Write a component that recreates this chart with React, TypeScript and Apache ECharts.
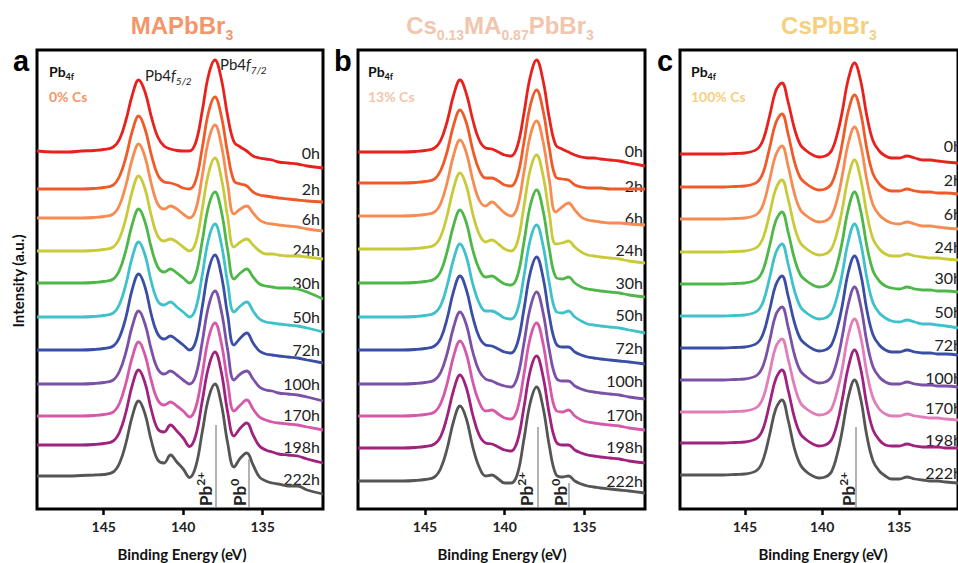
import React, { useEffect, useRef } from "react";
import * as echarts from "echarts";

// Binding energy grids (eV)
const ENERGY_AB = [149.2, 148.2, 147.2, 146.4, 145.6, 145.0, 144.4, 144.0, 143.6, 143.2, 142.8, 142.4, 142.0, 141.6, 141.2, 140.8, 140.4, 140.0, 139.6, 139.2, 138.8, 138.4, 138.0, 137.6, 137.2, 136.8, 136.4, 136.0, 135.6, 135.2, 134.8, 134.4, 134.0, 133.4, 132.8, 132.2, 131.2];
const ENERGY_C = [149.2, 148.2, 147.2, 146.4, 145.6, 145.0, 144.2, 143.8, 143.4, 143.0, 142.6, 142.2, 141.8, 141.4, 141.0, 140.6, 140.2, 139.8, 139.4, 139.0, 138.7, 138.3, 137.9, 137.5, 137.1, 136.7, 136.3, 135.9, 135.5, 135.0, 134.5, 134.0, 133.5, 133.0, 132.5, 132.0, 131.2];

const TIMES = ["0h", "2h", "6h", "24h", "30h", "50h", "72h", "100h", "170h", "198h", "222h"];
const COLORS = ["#E8211D", "#F05A28", "#F68C52", "#C8CA3A", "#4DB748", "#3EC1CA", "#3A4EA5", "#7B51A8", "#D558A9", "#A0227F", "#555555"];
const COLORS_C = ["#E8211D", "#F05A28", "#F68C52", "#C8CA3A", "#4DB748", "#3EC1CA", "#3A4EA5", "#7B51A8", "#E17DB9", "#A0227F", "#555555"];

// Vertical offsets of each spectrum (a.u.)
const OFFSETS_A = [358, 320, 291, 258, 226, 192, 159, 125, 93, 64, 33];
const OFFSETS_B = [357, 326, 293, 260, 226, 192, 159, 125, 93, 61, 28];
const OFFSETS_C = [355, 322, 290, 257, 225, 193, 161, 129, 97, 66, 34];

// Intensities (a.u., relative to each spectrum's high-BE baseline)
const SPECTRA_A = [
  [0, -1, -1, 0, 0.5, 1.5, 4, 12, 31, 56, 71, 59, 34, 14, 5, 2, 0.5, 0, 0, 9, 40, 76, 91, 72, 35, 9, 4, 0, -5, -7, -8, -9, -11, -12, -13, -15, -17],
  [0, 0, 0, 0, 0.5, 1.5, 4, 13, 32, 58, 73, 60, 34, 14, 7, 6, 4, 1, 0, 9, 41, 77, 92, 73, 36, 8, 5, 3, -3, -6, -7, -8, -9, -10, -11, -12, -13],
  [0, 0, 0, 0, 0.5, 1.5, 4, 13, 33, 59, 74, 61, 34, 14, 9, 12, 9, 4, 0, 9, 42, 78, 93, 73, 34, 4, 9, 12, 5, -2, -5, -6, -7, -8, -9, -11, -13],
  [0, 0, 0, 0, 0.5, 1.5, 4, 13, 33, 60, 75, 62, 35, 15, 10, 12, 9, 4, 0, 9, 42, 78, 93, 73, 34, 4, 9, 12, 6, 0, -3, -3, -4, -5, -5, -6, -8],
  [0, 0, 0, 0, 0.5, 1.5, 4, 13, 33, 59, 74, 61, 35, 16, 11, 14, 10, 5, 0, 9, 42, 77, 91, 72, 33, 4, 10, 14, 6, -1, -3, -4, -5, -5, -6, -9, -16],
  [0, 0, 0, 0, 0.5, 1.5, 4, 13, 33, 60, 75, 62, 35, 16, 12, 15, 10, 5, 0, 9, 42, 78, 93, 73, 34, 5, 11, 15, 6, -2, -5, -6, -7, -8, -9, -11, -15],
  [0, 0, 0, 0, 0.5, 1.5, 4, 13, 33, 61, 76, 63, 35, 16, 11, 14, 10, 5, 0, 9, 43, 80, 95, 75, 35, 5, 12, 17, 7, -1, -4, -5, -6, -7, -8, -10, -13],
  [0, 0, 0, 0, 0.5, 1.5, 4, 13, 32, 58, 73, 60, 34, 15, 10, 13, 9, 4, 0, 9, 42, 78, 93, 73, 34, 4, 10, 13, 5, -3, -6, -7, -9, -10, -11, -13, -17],
  [0, 0, 0, 0, 0.5, 1.5, 4, 13, 33, 59, 74, 61, 35, 16, 11, 14, 10, 5, -1, 9, 42, 78, 93, 73, 34, 5, 11, 16, 7, -1, -4, -6, -7, -8, -9, -11, -14],
  [0, 0, 0, 0, 0.5, 1.5, 4, 13, 33, 60, 75, 62, 35, 16, 13, 20, 14, 7, -1.5, 10, 44, 78, 93, 73, 33, 9, 17, 22, 10, -1, -5, -7, -9, -10, -11, -14, -18],
  [0, 0, 0, 0.5, 1, 1.5, 4, 13, 33, 60, 75, 62, 35, 16, 13, 21, 14, 7, -1.5, 10, 44, 78, 92, 72, 33, 9, 18, 23, 11, -1, -5, -7, -8, -10, -10, -14, -18],
];

const SPECTRA_B = [
  [0, 0, 0, 0, 0.5, 1.5, 4, 12, 31, 57, 72, 58, 32, 12, 4, 3, 0, -3, -4, 6, 38, 75, 92, 72, 34, 7, 3, 0, -3, -5, -6, -6, -7, -8, -9, -11, -14],
  [0, 0, 0, 0, 0.5, 1.5, 4, 13, 32, 58, 73, 60, 33, 13, 5, 5, 2, -2, -3, 7, 40, 77, 93, 73, 35, 6, 4, 3, -2, -4, -5, -5, -5, -6, -6, -6, -6],
  [0, 0, 0, 0, 0.5, 1.5, 4, 13, 34, 61, 76, 63, 36, 16, 10, 14, 9, 3, 0, 9, 43, 80, 95, 75, 36, 4, 9, 13, 6, -1, -4, -5, -6, -7, -7, -8, -9],
  [0, 0, 0, 0, 0.5, 1.5, 4, 13, 34, 61, 76, 63, 35, 15, 7, 9, 5, 0, -2, 7, 42, 79, 94, 74, 35, 5, 6, 8, 2, -3, -6, -7, -8, -9, -10, -12, -14],
  [0, 0, 0, 0, 0.5, 1.5, 4, 12, 32, 58, 73, 60, 33, 14, 6, 7, 3, -1, -2, 7, 40, 77, 93, 73, 34, 6, 4, 6, 0, -4, -6, -7, -8, -9, -10, -12, -14],
  [0, 0, 0, 0, 0.5, 1.5, 4, 12, 32, 58, 73, 60, 33, 14, 6, 6, 3, -1, -2, 7, 40, 77, 92, 72, 34, 6, 4, 6, 0, -4, -7, -8, -9, -10, -11, -13, -16],
  [0, 0, 0, 0, 0.5, 1.5, 4, 12, 32, 59, 74, 60, 33, 13, 5, 4, 1, -2, -3, 7, 40, 77, 93, 73, 34, 7, 3, 3, -2, -5, -7, -8, -9, -10, -11, -12, -14],
  [0, 0, 0, 0, 0.5, 1.5, 4, 12, 31, 57, 72, 59, 32, 13, 5, 3, 0, -2, -3, 7, 40, 76, 92, 72, 34, 7, 3, 3, -2, -5, -7, -8, -9, -10, -11, -13, -15],
  [0, 0, 0, 0, 0.5, 1.5, 4, 13, 33, 60, 75, 62, 34, 14, 5, 6, 2, -2, -3, 7, 41, 78, 93, 73, 34, 6, 4, 6, 0, -4, -6, -7, -8, -9, -10, -12, -14],
  [0, 0, 0, 0, 0.5, 1.5, 4, 12, 32, 58, 73, 60, 33, 13, 5, 4, 1, -2, -3, 7, 40, 77, 92, 72, 34, 7, 3, 3, -2, -5, -7, -8, -9, -10, -11, -13, -15],
  [0, 0, 0, 0, 0.5, 1.5, 4, 13, 33, 60, 75, 62, 34, 14, 5, 6, 2, -2, -2, 7, 41, 78, 94, 74, 35, 7, 4, 5, 0, -3, -5, -6, -7, -8, -9, -10, -12],
];

const SPECTRA_C = [
  [0, 0, 0, 0, 0.5, 1, 5, 15, 38, 63, 71, 52, 26, 9, 3, -1, -3, -2, 3, 21, 42, 75, 91, 73, 38, 13, 3, -2, -4, -4, -2, -4, -6, -6, -7, -8, -9],
  [0, 0, 0, 0, 0.5, 1, 5, 15, 39, 64, 73, 53, 26, 9, 3, -1, -3, -2, 3, 21, 43, 76, 92, 74, 38, 13, 3, -2, -4, -4, -2, -4, -5, -5, -6, -6, -7],
  [0, 0, 0, 0, 0.5, 1, 5, 15, 39, 64, 73, 53, 26, 9, 3, -1, -3, -2, 3, 21, 43, 76, 92, 74, 39, 14, 4, -1, -4, -5, -3, -5, -7, -7, -8, -9, -10],
  [0, 0, 0, 0, 0.5, 1, 5, 15, 38, 63, 72, 53, 26, 9, 3, -1, -3, -2, 3, 21, 42, 75, 92, 73, 38, 13, 3, -2, -4, -4, -2, -4, -5, -6, -6, -7, -8],
  [0, 0, 0, 0, 0.5, 1, 5, 15, 38, 63, 72, 52, 26, 9, 3, -1, -3, -2, 3, 21, 42, 75, 92, 73, 38, 13, 3, -2, -4, -5, -3, -5, -6, -6, -7, -7, -8],
  [0, 0, 0, 0, 0.5, 1, 5, 15, 38, 63, 72, 52, 26, 9, 3, -1, -3, -2, 3, 21, 42, 75, 92, 73, 38, 13, 3, -2, -5, -6, -4, -6, -8, -8, -9, -10, -12],
  [0, 0, 0, 0, 0.5, 1, 5, 15, 38, 63, 72, 52, 26, 9, 3, -1, -3, -2, 3, 21, 42, 76, 92, 74, 38, 13, 3, -2, -4, -4, -2, -4, -5, -5, -6, -6, -7],
  [0, 0, 0, 0, 0.5, 1, 5, 15, 39, 65, 73, 53, 26, 9, 3, -1, -3, -2, 3, 21, 43, 76, 93, 74, 38, 13, 3, -2, -4, -4, -2, -4, -5, -5, -6, -6, -7],
  [0, 0, 0, 0, 0.5, 1, 5, 15, 39, 65, 73, 53, 27, 9, 3, -1, -3, -2, 3, 22, 43, 77, 93, 75, 39, 14, 3, -2, -4, -4, -2, -4, -5, -6, -6, -7, -8],
  [0, 0, 0, 0, 0.5, 1, 5, 15, 39, 64, 73, 53, 26, 9, 3, -1, -3, -2, 3, 21, 43, 76, 93, 74, 38, 13, 3, -2, -3, -3, -1, -3, -4, -4, -4, -5, -5],
  [0, 0, 0, 0, 0.5, 1, 5, 16, 40, 66, 75, 55, 27, 10, 3, -1, -3, -2, 3, 22, 44, 78, 95, 76, 39, 14, 4, -1, -4, -4, -2, -4, -5, -6, -6, -7, -8],
];

const X_TICKS = [135, 140, 145];

// Time-label vertical centres (px) per panel
const LABEL_Y_A = [152, 188, 218, 249, 282, 316, 349, 383, 414, 446, 478];
const LABEL_Y_B = [150, 185, 217, 249, 282, 314, 347, 380, 414, 446, 480];
const LABEL_Y_C = [145, 179, 213, 246, 277, 311, 344, 377, 407, 439, 472];

const FONT_UI = "Lato, 'Open Sans', sans-serif";
const FONT_HEAD = "'Liberation Sans', Arial, sans-serif";

let measureCtx: CanvasRenderingContext2D | null = null;
function textWidth(t: string, size: number, weight: string, italic: boolean, family: string) {
  if (!measureCtx) {
    const c = document.createElement("canvas");
    measureCtx = c.getContext("2d");
  }
  if (!measureCtx) return t.length * size * 0.55;
  measureCtx.font = `${italic ? "italic" : "normal"} ${weight} ${size}px ${family}`;
  return measureCtx.measureText(t).width;
}

type Seg = { t: string; size: number; weight?: string; italic?: boolean; dy?: number; fill?: string; family?: string };

function row(x0: number, baseline: number, segs: Seg[], align: "left" | "center" | "right", def: { fill: string; family: string; weight: string }) {
  const widths = segs.map((s) => textWidth(s.t, s.size, s.weight || def.weight, !!s.italic, s.family || def.family));
  const total = widths.reduce((a, b) => a + b, 0);
  let x = align === "left" ? x0 : align === "center" ? x0 - total / 2 : x0 - total;
  return segs.map((s, i) => {
    const fam = s.family || def.family;
    const k = fam === FONT_HEAD ? 0.35 : 0.37;
    const el = {
      type: "text",
      x,
      y: baseline + (s.dy || 0) - k * s.size,
      silent: true,
      style: {
        text: s.t,
        fill: s.fill || def.fill,
        fontSize: s.size,
        fontWeight: s.weight || def.weight,
        fontStyle: s.italic ? "italic" : "normal",
        fontFamily: fam,
        align: "left",
        textAlign: "left",
        verticalAlign: "middle",
        textVerticalAlign: "middle",
      },
    };
    x += widths[i];
    return el;
  });
}

function simpleText(x: number, y: number, text: string, size: number, weight: string, fill: string, family: string, align: string, rotation = 0) {
  return {
    type: "text",
    x,
    y,
    rotation,
    silent: true,
    style: {
      text,
      fill,
      fontSize: size,
      fontWeight: weight,
      fontFamily: family,
      align,
      textAlign: align,
      verticalAlign: "middle",
      textVerticalAlign: "middle",
    },
  };
}

function rotatedPb(x: number, y: number, sup: string) {
  const def = { fill: "#222", family: FONT_UI, weight: "bold" };
  return {
    type: "group",
    x,
    y,
    rotation: Math.PI / 2,
    silent: true,
    children: row(0, 0, [
      { t: "Pb", size: 17 },
      { t: sup, size: 12, dy: -7 },
    ], "left", def),
  };
}

const PANELS = [
  {
    left: 37, width: 286, energy: ENERGY_AB, spectra: SPECTRA_A, offsets: OFFSETS_A, colors: COLORS,
    lines: [[137.95, 84], [135.9, 50]],
  },
  {
    left: 358, width: 287, energy: ENERGY_AB, spectra: SPECTRA_B, offsets: OFFSETS_B, colors: COLORS,
    lines: [[137.95, 82], [136.0, 26]],
  },
  {
    left: 680, width: 286, energy: ENERGY_C, spectra: SPECTRA_C, offsets: OFFSETS_C, colors: COLORS_C,
    lines: [[137.85, 82]],
  },
];

function buildOption() {
  const grid = PANELS.map((p) => ({
    left: p.left, top: 50, width: p.width, height: 459,
    show: true, borderColor: "#000", borderWidth: 3, backgroundColor: "transparent",
  }));
  const xAxis = PANELS.map((p, i) => ({
    type: "value", gridIndex: i, inverse: true, min: 131.2, max: 149.2,
    axisLine: { show: false },
    axisTick: { show: true, inside: false, length: 6, lineStyle: { color: "#000", width: 2.5 }, customValues: X_TICKS },
    axisLabel: { customValues: X_TICKS, margin: 10, fontSize: 14, fontWeight: "bold", fontFamily: FONT_UI, color: "#222" },
    splitLine: { show: false },
  }));
  const yAxis = PANELS.map((p, i) => ({ type: "value", gridIndex: i, min: 0, max: 459, show: false }));

  const series: any[] = [];
  PANELS.forEach((p, i) => {
    p.spectra.forEach((rel, j) => {
      const color = p.colors[j];
      const s: any = {
        type: "line",
        name: `${"abc"[i]}-${TIMES[j]}`,
        xAxisIndex: i,
        yAxisIndex: i,
        data: p.energy.map((e, k) => [e, rel[k] + p.offsets[j]]),
        smooth: 0.4,
        symbol: "none",
        showSymbol: false,
        silent: true,
        clip: true,
        z: 2,
        lineStyle: { width: 2.8, color },
        itemStyle: { color },
      };
      if (j === p.spectra.length - 1) {
        s.markLine = {
          silent: true,
          symbol: "none",
          label: { show: false },
          lineStyle: { color: "#9a9a9a", width: 1.5, type: "solid" },
          data: p.lines.map(([e, top]) => [{ coord: [e, top] }, { coord: [e, 2] }]),
        };
      }
      series.push(s);
    });
  });

  const g: any[] = [];
  const headDef = { fill: "#000", family: FONT_HEAD, weight: "bold" };
  // Titles
  g.push(...row(182, 34, [{ t: "MAPbBr", size: 24 }, { t: "3", size: 14, dy: 6 }], "center", { ...headDef, fill: "#F4956A" }));
  g.push(...row(500, 34, [
    { t: "Cs", size: 24 }, { t: "0.13", size: 14, dy: 6 }, { t: "MA", size: 24 }, { t: "0.87", size: 14, dy: 6 },
    { t: "PbBr", size: 24 }, { t: "3", size: 14, dy: 6 },
  ], "center", { ...headDef, fill: "#F3C5AC" }));
  g.push(...row(829, 34, [{ t: "CsPbBr", size: 24 }, { t: "3", size: 14, dy: 6 }], "center", { ...headDef, fill: "#F6CF7F" }));
  // Panel letters
  g.push(...row(13, 71, [{ t: "a", size: 29 }], "left", headDef));
  g.push(...row(334, 71, [{ t: "b", size: 29 }], "left", headDef));
  g.push(...row(657, 71, [{ t: "c", size: 29 }], "left", headDef));

  const uiBold = { fill: "#111", family: FONT_UI, weight: "bold" };
  const pbX = [49, 368, 691];
  const csText = ["0% Cs", "13% Cs", "100% Cs"];
  const csColor = ["#F4956A", "#F3C5AC", "#F6CF7F"];
  pbX.forEach((x, i) => {
    g.push(...row(x, 77, [{ t: "Pb", size: 14 }, { t: "4f", size: 9, dy: 3 }], "left", uiBold));
    g.push(...row(x, 102, [{ t: csText[i], size: 14 }], "left", { ...uiBold, fill: csColor[i] }));
  });
  const uiReg = { fill: "#222", family: FONT_UI, weight: "normal" };
  g.push(...row(145, 81, [{ t: "Pb4", size: 15 }, { t: "f", size: 15, italic: true }, { t: "5/2", size: 10, italic: true, dy: 4 }], "left", uiReg));
  g.push(...row(220, 70, [{ t: "Pb4", size: 15 }, { t: "f", size: 15, italic: true }, { t: "7/2", size: 10, italic: true, dy: 4 }], "left", uiReg));

  // Time labels
  const labelSets = [[320, LABEL_Y_A], [643, LABEL_Y_B], [962, LABEL_Y_C]] as const;
  labelSets.forEach(([x, ys]) => {
    TIMES.forEach((t, j) => g.push(simpleText(x, ys[j], t, 16, "normal", "#222", FONT_UI, "right")));
  });

  // Peak-assignment labels
  g.push(rotatedPb(212, 506, "2+"));
  g.push(rotatedPb(246, 506, "0"));
  g.push(rotatedPb(533, 506, "2+"));
  g.push(rotatedPb(567, 506, "0"));
  g.push(rotatedPb(855, 506, "2+"));

  // Axis titles
  g.push(simpleText(18, 281, "Intensity (a.u.)", 15, "bold", "#111", FONT_UI, "center", Math.PI / 2));
  [182, 502, 823].forEach((cx) => g.push(simpleText(cx, 554, "Binding Energy (eV)", 15, "bold", "#111", FONT_UI, "center")));

  return {
    animation: false,
    backgroundColor: "#ffffff",
    grid,
    xAxis,
    yAxis,
    series,
    graphic: { elements: g },
  };
}

export default function App() {
  const ref = useRef<HTMLDivElement>(null);
  useEffect(() => {
    if (!ref.current) return;
    const chart = echarts.init(ref.current, undefined, { renderer: "svg" });
    chart.setOption(buildOption() as any);
    return () => chart.dispose();
  }, []);
  return (
    <div
      ref={ref}
      style={{ position: "fixed", left: 0, top: 0, width: 958, height: 563, background: "#fff" }}
    />
  );
}
